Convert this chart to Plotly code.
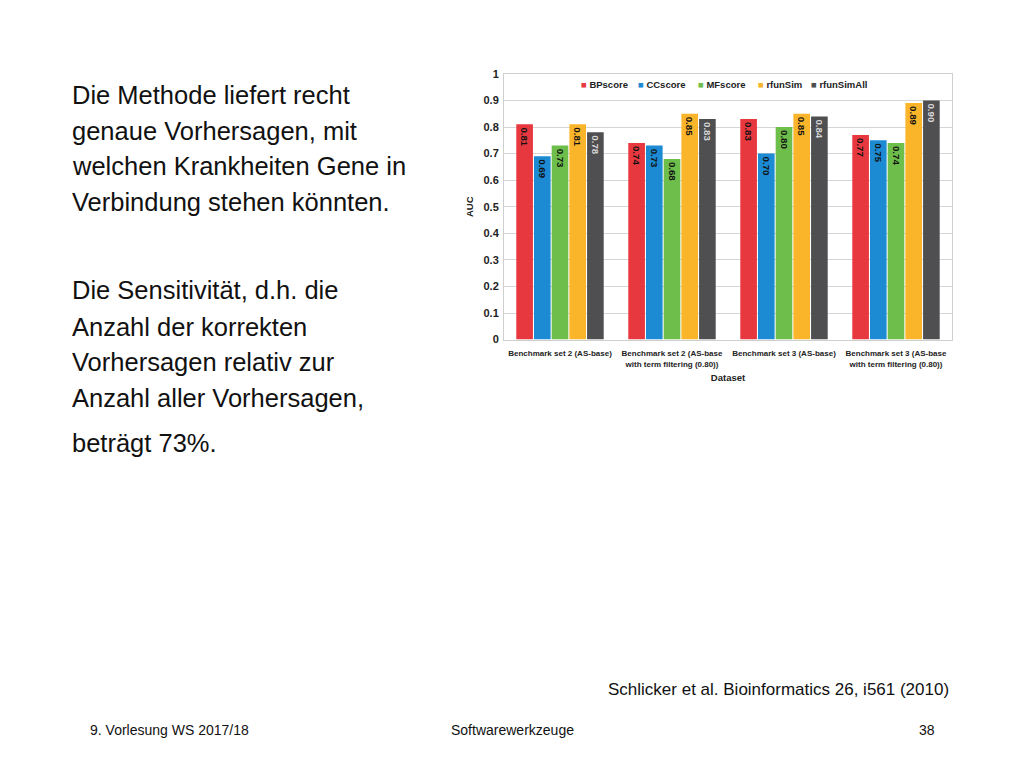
import plotly.graph_objects as go

# AUC per dataset and score (Schlicker et al. 2010)
datasets = [
    "Benchmark set 2 (AS-base)",
    "Benchmark set 2 (AS-base<br>with term filtering (0.80))",
    "Benchmark set 3 (AS-base)",
    "Benchmark set 3 (AS-base<br>with term filtering (0.80))",
]
bpscore = [0.81, 0.74, 0.83, 0.77]
ccscore = [0.69, 0.73, 0.70, 0.75]
mfscore = [0.73, 0.68, 0.80, 0.74]
rfunsim = [0.81, 0.85, 0.85, 0.89]
rfunsimall = [0.78, 0.83, 0.84, 0.90]

series = [
    ("BPscore", bpscore, "#E8383F", "#111111"),
    ("CCscore", ccscore, "#1C8BD4", "#111111"),
    ("MFscore", mfscore, "#6DBE4B", "#111111"),
    ("rfunSim", rfunsim, "#FBB52B", "#111111"),
    ("rfunSimAll", rfunsimall, "#4F4F51", "#D8D8D8"),
]

slide_lines = [
    ("Die Methode liefert recht", 95),
    ("genaue Vorhersagen, mit", 131),
    ("welchen Krankheiten Gene in", 166),
    ("Verbindung stehen könnten.", 202),
    ("Die Sensitivität, d.h. die", 290),
    ("Anzahl der korrekten", 327),
    ("Vorhersagen relativ zur", 362),
    ("Anzahl aller Vorhersagen,", 398),
    ("beträgt 73%.", 443),
]

# the page body has an 8px margin; keep the figure inside the window
OFF = 8
W, H = 1024 - 2 * OFF, 768 - 2 * OFF


def px(x):
    return (x - OFF) / W


def py(y):
    # screenshot comes out slightly squeezed vertically, undo that
    y = (y - 6.2) / 0.985
    return 1 - (y - OFF) / H


fig = go.Figure()
for name, vals, color, tcolor in series:
    fig.add_trace(go.Bar(
        name=name,
        x=datasets,
        y=vals,
        marker=dict(color=color, line=dict(width=0)),
        text=[f"{v:.2f}" for v in vals],
        textposition="inside",
        insidetextanchor="end",
        textangle=90,
        textfont=dict(family="Liberation Sans", size=10, color=tcolor, weight="bold"),
        showlegend=False,
    ))

annotations = []
for txt, ypx in slide_lines:
    annotations.append(dict(
        text=txt, x=px(70), y=py(ypx), xref="paper", yref="paper",
        xanchor="left", yanchor="middle", showarrow=False,
        font=dict(family="Liberation Sans", size=25.5, color="#111111"),
    ))

footer = [
    ("Schlicker et al. Bioinformatics 26, i561 (2010)", 951, 690, "right", 17),
    ("9. Vorlesung WS 2017/18", 88, 731, "left", 14),
    ("Softwarewerkzeuge", 512, 731, "center", 14),
    ("38", 937, 731, "right", 14),
]
for txt, xpx, ypx, anchor, size in footer:
    annotations.append(dict(
        text=txt, x=px(xpx), y=py(ypx), xref="paper", yref="paper",
        xanchor=anchor, yanchor="middle", showarrow=False,
        font=dict(family="Liberation Sans", size=size, color="#111111"),
    ))

# small legend drawn as text, like the original figure
legend_x = [579, 636, 696, 756, 809]
for (name, _, color, _), lx in zip(series, legend_x):
    annotations.append(dict(
        text=f"<span style='color:{color}'>■</span> <b>{name}</b>",
        x=px(lx), y=py(85), xref="paper", yref="paper",
        xanchor="left", yanchor="middle", showarrow=False,
        font=dict(family="Liberation Sans", size=9.5, color="#222222"),
    ))

fig.update_layout(
    width=W, height=H, autosize=False,
    margin=dict(l=0, r=0, t=0, b=0),
    paper_bgcolor="white",
    plot_bgcolor="white",
    barmode="group",
    bargap=0.21,
    bargroupgap=0.06,
    font=dict(family="Liberation Sans", color="#222222"),
    showlegend=False,
    xaxis=dict(
        domain=[px(504), px(952)],
        title=dict(text="<b>Dataset</b>", font=dict(size=9.5), standoff=6),
        tickfont=dict(size=8, weight="bold"),
        ticklabelstandoff=6,
        showline=True, linecolor="#CFCFCF", mirror=True,
        ticks="",
    ),
    yaxis=dict(
        domain=[py(340), py(74)],
        range=[0, 1],
        dtick=0.1,
        tickformat=".1~f",
        title=dict(text="<b>AUC</b>", font=dict(size=9.5), standoff=8),
        tickfont=dict(size=11, weight="bold"),
        ticklabelstandoff=2,
        gridcolor="#D5D5D5",
        showline=True, linecolor="#CFCFCF", mirror=True,
        zeroline=False,
    ),
    annotations=annotations,
)

fig.write_html("out.html")
